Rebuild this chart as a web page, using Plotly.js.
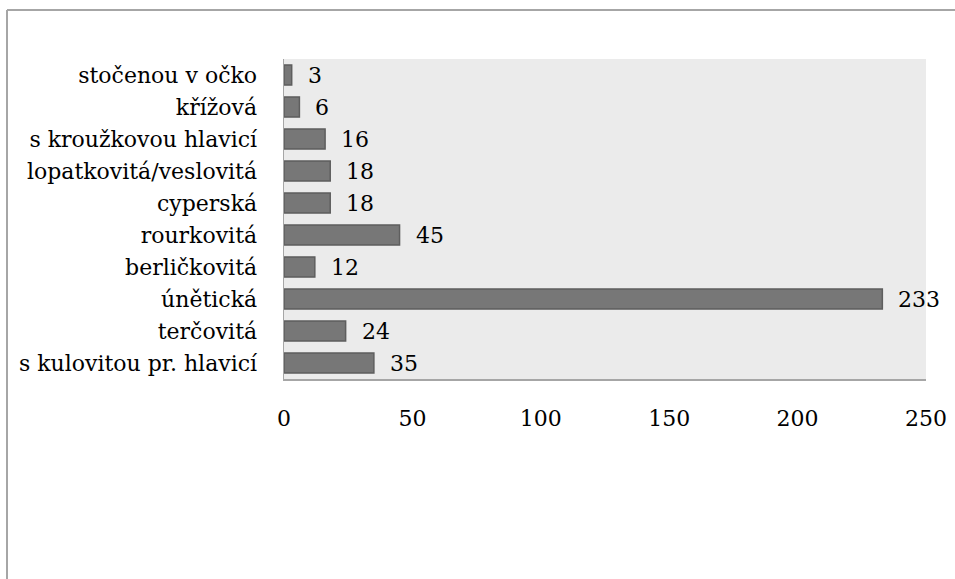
<!DOCTYPE html>
<html>
<head>
<meta charset="utf-8">
<script src="https://cdn.plot.ly/plotly-3.0.1.min.js"></script>
<style>
html,body{margin:0;padding:0;background:#fff;}
#chart{width:955px;height:579px;}
</style>
</head>
<body>
<div id="chart"></div>
<script>
const categories = ["s kulovitou pr. hlavicí","terčovitá","únětická","berličkovitá","rourkovitá","cyperská","lopatkovitá/veslovitá","s kroužkovou hlavicí","křížová","stočenou v očko"];
const values = [35,24,233,12,45,18,18,16,6,3];
const xTicks = [0,50,100,150,200,250];

const FONT = "DejaVu Serif";
const FS = 22;
const trace = {
  type:'bar', orientation:'h',
  x: values, y: categories,
  marker:{color:'#777777', line:{color:'#5e5e5e', width:1.5}},
  hoverinfo:'none'
};
const annotations = values.map((v,i)=>({
  x:v, y:categories[i], xref:'x', yref:'y', text:String(v),
  showarrow:false, xanchor:'left', xshift:14,
  font:{family:FONT,size:FS,color:'#000'}
}));
const layout = {
  width:955, height:579,
  margin:{l:284, r:29, t:59, b:200, pad:0},
  paper_bgcolor:'#ffffff', plot_bgcolor:'#ebebeb',
  showlegend:false,
  bargap:0.37,
  font:{family:FONT, size:FS, color:'#000'},
  xaxis:{range:[0,250], tickvals:xTicks, ticktext:xTicks.map(String), showgrid:false, zeroline:false,
    showline:true, linecolor:'#a6a6a6', linewidth:1.5, ticks:'', ticklabelstandoff:19,
    tickfont:{family:FONT,size:FS,color:'#000'}, fixedrange:true},
  yaxis:{type:'category', categoryorder:'array', categoryarray:categories, showgrid:false, zeroline:false,
    showline:true, linecolor:'#a6a6a6', linewidth:1.5, ticks:'', ticklabelstandoff:21,
    tickfont:{family:FONT,size:FS,color:'#000'}, fixedrange:true},
  annotations: annotations,
  shapes:[
    {type:'line', xref:'paper', yref:'paper', x0:(7-284)/642, x1:(960-284)/642, y0:1+(59-10)/320, y1:1+(59-10)/320, line:{color:'#a6a6a6', width:2}},
    {type:'line', xref:'paper', yref:'paper', x0:(7-284)/642, x1:(7-284)/642, y0:1+(59-10)/320, y1:-210/320, line:{color:'#a6a6a6', width:2}}
  ]
};
Plotly.newPlot('chart',[trace],layout,{staticPlot:true, displayModeBar:false});
</script>
</body>
</html>
